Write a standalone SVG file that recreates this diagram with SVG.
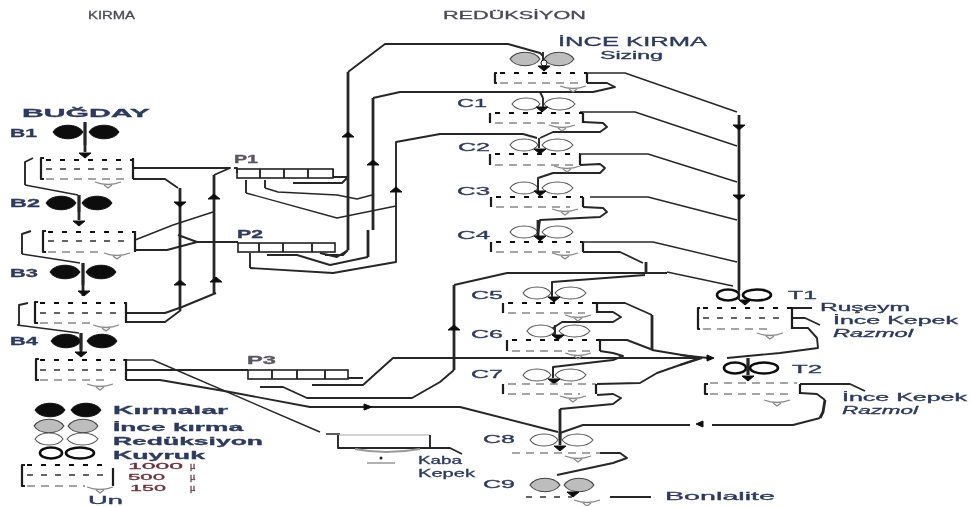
<svg xmlns="http://www.w3.org/2000/svg" width="971" height="507" viewBox="0 0 971 507">
<style>
text{font-family:"Liberation Sans","DejaVu Sans",sans-serif;fill:#2d3a5c;font-size:11px;stroke:#2d3a5c;stroke-width:.3}
.b{font-weight:bold}.i{font-style:italic}.r{fill:#6d3340;stroke:#6d3340;font-size:9px}.g{fill:#4a4a58;stroke:#4a4a58}
.o{fill:#5a5560;stroke:#5a5560}.sm{font-size:10px}.lg{font-size:12px}
path,line,polyline{fill:none;stroke-linejoin:round}
.th{stroke:#262626;stroke-width:1.4}.tk{stroke:#262626;stroke-width:2.8}.md{stroke:#262626;stroke-width:1.9}
.s1{stroke:#111;stroke-width:2.2;stroke-dasharray:5 9}.s2{stroke:#333;stroke-width:1.5;stroke-dasharray:6 8}.s3{stroke:#888;stroke-width:1.3;stroke-dasharray:8 6}
.br{stroke:#1d1d1d;stroke-width:2.2}.hp{stroke:#888;stroke-width:1.3}
.box{fill:#fff;stroke:#222;stroke-width:1.6}
</style>
<defs>
<filter id="soft" x="0" y="0" width="100%" height="100%"><feGaussianBlur stdDeviation="0.45"/></filter>
<g id="blk"><path d="M-33 0C-28-9-8-9-3 0C-8 9-28 9-33 0ZM3 0C8-9 28-9 33 0C28 9 8 9 3 0Z" style="fill:#0a0a0a;stroke:#0a0a0a"/></g>
<g id="gry"><path d="M-32 0C-26-9-8-9-2 0C-8 9-26 9-32 0ZM2 0C8-9 26-9 32 0C26 9 8 9 2 0Z" style="fill:#bdbdbd;stroke:#444;stroke-width:1.1"/></g>
<g id="wht"><path d="M-30 0C-25-8-7-8-2 0C-7 8-25 8-30 0ZM2 0C8-8 27-8 33 0C27 8 8 8 2 0Z" style="fill:#fff;stroke:#555;stroke-width:1.1"/></g>
<g id="rng"><ellipse cx="-15" cy="0" rx="11" ry="5.5" style="fill:#fff;stroke:#111;stroke-width:2.6"/><ellipse cx="14" cy="0" rx="14" ry="5.5" style="fill:#fff;stroke:#111;stroke-width:2.6"/></g>
<g id="hop"><path d="M-13 0Q0 5 13 0M-4 3L0 6L4 3" class="hp"/></g>
<path id="ad" d="M-6-2H6L0 3Z" style="fill:#111;stroke:#111"/>
<path id="au" d="M-6 2H6L0-3Z" style="fill:#111;stroke:#111"/>
</defs>
<g filter="url(#soft)">
<g id="connectors">
<path class="tk" d="M85 122V152M79 195V220M83 270V296M81 333V352"/>
<path class="md" d="M33 158L25 162V185"/><path class="th" d="M25 185L78 195"/>
<path class="md" d="M31 231L22 234V254"/><path class="th" d="M22 254L80 263"/><path class="tk" d="M83 263V270"/>
<path class="md" d="M28 303L19 305V325"/><path class="th" d="M17 325L79 333"/>
<path class="md" d="M133 168H230L214 175"/><path class="tk" d="M214 175V293"/><path class="md" d="M216 293L182 307L165 313H126"/>
<path class="md" d="M133 179H165L178 188"/><path class="tk" d="M180 188V310"/><path class="md" d="M181 310L165 322H126"/>
<path class="md" d="M178 235L197 242H238"/><path class="th" d="M135 240L173 225L213 212"/><path class="md" d="M135 250H167L197 242"/>
<path class="md" d="M333 169V177H347M293 183H342L347 178"/>
<path class="md" d="M246 180V193"/><path class="th" d="M246 193L337 218L396 206"/>
<path class="md" d="M265 180V188"/><path class="th" d="M265 188L278 192L337 195L357 199L372 195"/>
<path class="tk" d="M348 72V250"/><path class="md" d="M348 250L343 255H325M320 253L337 257L348 250"/><path class="md" d="M348 72L385 44H508L540 53L543 56"/>
<path class="tk" d="M373 98V230M368 230V257"/><path class="md" d="M373 98L400 92H593L615 87L607 83H587"/><path class="md" d="M368 257L330 265L297 255H267"/>
<path class="md" d="M250 253V268"/><path class="md" d="M250 268L333 273L396 262V142L440 134H523L537 138"/>
<path class="md" d="M583 122L603 123L607 127L600 132H553L540 138"/><path class="md" d="M540 92L543 98"/>
<path class="th" d="M587 73H625L737 112"/><path class="th" d="M580 112H635L737 146M580 154H648L737 182M590 197H648L737 220M583 242H653L737 262M667 272L733 286"/>
<path class="tk" d="M739 115V290"/>
<path class="md" d="M580 165L600 164L605 168L600 173H553L538 178V188"/><path class="md" d="M583 207L603 208L607 212L600 217L540 220L538 235"/>
<path class="md" d="M583 252H620L643 263"/><path class="tk" d="M646 262V274"/>
<path class="md" d="M454 285L507 273H667M645 275L552 282V297"/><path class="tk" d="M454 285V370"/>
<path class="md" d="M454 370L440 382L412 398H307L283 387H260"/>
<path class="md" d="M126 370H248M348 378H363M312 385H363L393 358H700"/>
<path class="th" d="M123 360H153L320 432M326 434H340"/>
<path class="md" d="M126 380H160L230 392L310 407H460L558 432"/>
<path class="md" d="M597 303H625L652 315"/><path class="tk" d="M652 315V350"/><path class="md" d="M652 350L700 358M600 340H627L653 350"/>
<path class="md" d="M597 312H613L621 317L613 322H562L553 328V335"/>
<path class="md" d="M600 351L613 353L623 356L613 360L553 367V378"/>
<path class="md" d="M597 384L640 383L657 373L700 358"/>
<path class="md" d="M597 395L613 394L621 398L613 404L560 409"/><path class="tk" d="M560 409V440"/>
<path class="md" d="M560 433L583 425H690M712 425H793L820 418"/><path class="tk" d="M825 400L823 412L820 418"/><path class="md" d="M825 400L817 394L800 393"/>
<path class="md" d="M600 453H620L627 458L613 463L557 475"/>
<path class="md" d="M610 497H651"/>
<path class="md" d="M792 308H812M792 318H805L820 325M792 328H808L817 338L818 348L780 353L727 358"/>
<path class="md" d="M680 355L708 358M680 365L702 358"/>
<path class="md" d="M800 384H850L865 391"/>
<path class="tk" d="M748 358V375"/>
<path class="md" d="M430 448H450L462 454"/>
<use href="#ad" x="85" y="155"/><use href="#ad" x="79" y="223"/><use href="#ad" x="84" y="293"/><use href="#ad" x="81" y="354"/>
<use href="#ad" x="180" y="204"/><use href="#au" x="180" y="283"/><use href="#au" x="214" y="197"/><use href="#au" x="216" y="280"/>
<use href="#au" x="348" y="135"/><use href="#au" x="373" y="163"/><use href="#au" x="396" y="190"/><use href="#au" x="454" y="328"/>
<use href="#ad" x="739" y="127"/><use href="#ad" x="739" y="197"/>
<path d="M707 355L714 358L707 361Z" style="fill:#111;stroke:#111"/><path d="M696 424L703 421V427Z" style="fill:#111;stroke:#111"/><path d="M364 404L372 407L364 410Z" style="fill:#111;stroke:#111"/>
</g>

<g id="B1"><use href="#blk" x="86" y="132"/><path class="tk" d="M85 122V145"/><path class="s1" d="M46 160H133"/><path class="s2" d="M46 169H130"/><path class="s3" d="M46 179H125"/><path class="br" d="M44 158H41V179H44M133 158V179"/><use href="#hop" x="108" y="182"/></g>
<g id="B2"><use href="#blk" x="79" y="203"/><path class="tk" d="M79 195V212"/><path class="s1" d="M48 232H135"/><path class="s2" d="M48 241H132"/><path class="s3" d="M48 252H100"/><path class="br" d="M46 231H43V252H46M135 231V252"/><use href="#hop" x="117" y="253"/></g>
<g id="B3"><use href="#blk" x="83" y="272"/><path class="tk" d="M83 263V285"/><path class="s1" d="M40 303H126"/><path class="s2" d="M40 313H124"/><path class="s3" d="M40 323H90"/><path class="br" d="M38 302H35V323H38M126 302V323"/><use href="#hop" x="106" y="325"/></g>
<g id="B4"><use href="#blk" x="84" y="341"/><path class="tk" d="M81 333V350"/><path class="s1" d="M40 360H126"/><path class="s2" d="M40 370H124"/><path class="s3" d="M40 380H110"/><path class="br" d="M39 359H36V380H39M126 359V380"/><use href="#hop" x="100" y="384"/></g>
<g id="P1"><rect class="box" x="237" y="169" width="96" height="9"/><path class="md" d="M260 169V178M284 169V178M308 169V178M234 168H237V173"/><text class="b o" x="234" y="163" textLength="24" lengthAdjust="spacingAndGlyphs">P1</text></g>
<g id="P2"><rect class="box" x="238" y="243" width="97" height="9"/><path class="md" d="M259 243V252M283 243V252M312 243V252"/><text class="b" x="237" y="238" textLength="26" lengthAdjust="spacingAndGlyphs">P2</text></g>
<g id="P3"><rect class="box" x="248" y="370" width="100" height="9"/><path class="md" d="M272 370V379M297 370V379M325 370V379"/><text class="b o" x="247" y="364" textLength="29" lengthAdjust="spacingAndGlyphs">P3</text></g>

<g id="Sizing"><use href="#gry" x="542" y="59"/><path class="md" d="M543 52V62"/><circle cx="544" cy="63" r="3" style="fill:#fff;stroke:#111"/><use href="#ad" x="544" y="68"/><path class="s1" d="M500 73H587"/><path class="s3" d="M500 83H580"/><path class="br" d="M497 73H495V83H497M587 73V83"/><use href="#hop" x="573" y="86"/></g>
<g id="C1"><use href="#wht" x="542" y="104"/><path class="md" d="M543 98V107"/><use href="#ad" x="542" y="109"/><path class="s1" d="M495 113H583"/><path class="s3" d="M495 123H570"/><path class="br" d="M490 113V123M583 113V123"/><use href="#hop" x="562" y="125"/></g>
<g id="C2"><use href="#wht" x="540" y="145"/><path class="md" d="M539 138V148"/><use href="#ad" x="540" y="151"/><path class="s1" d="M495 154H580"/><path class="s3" d="M495 165H575"/><path class="br" d="M490 154V165M580 154V165"/><use href="#hop" x="567" y="166"/></g>
<g id="C3"><use href="#wht" x="540" y="188"/><path class="md" d="M538 180V191"/><use href="#ad" x="540" y="193"/><path class="s1" d="M496 197H583"/><path class="s3" d="M496 207H570"/><path class="br" d="M491 197V207M583 197V207"/><use href="#hop" x="565" y="209"/></g>
<g id="C4"><use href="#wht" x="540" y="232"/><path class="tk" d="M538 220V236"/><use href="#ad" x="540" y="238"/><path class="s1" d="M496 242H583"/><path class="s3" d="M496 252H570"/><path class="br" d="M491 242V252M583 242V252"/><use href="#hop" x="565" y="253"/></g>
<g id="C5"><use href="#wht" x="553" y="293"/><path class="md" d="M552 282V296"/><use href="#ad" x="554" y="299"/><path class="s1" d="M508 303H597"/><path class="s3" d="M508 313H585"/><path class="br" d="M503 303V313M597 303V313"/><use href="#hop" x="578" y="315"/></g>
<g id="C6"><use href="#wht" x="557" y="331"/><path class="md" d="M555 325V335"/><use href="#ad" x="558" y="337"/><path class="s1" d="M512 340H600"/><path class="s3" d="M512 351H590"/><path class="br" d="M507 340V351M600 340V351"/><use href="#hop" x="578" y="353"/></g>
<g id="C7"><use href="#wht" x="553" y="375"/><path class="md" d="M553 367V378"/><use href="#ad" x="554" y="381"/><path class="s3" d="M508 384H596M508 394H580"/><path class="br" d="M503 384V394M596 384V394"/><use href="#hop" x="573" y="396"/></g>
<g id="C8"><use href="#wht" x="560" y="440"/><path class="tk" d="M560 432V445"/><use href="#ad" x="560" y="448"/><path class="s3" d="M512 453H600"/><use href="#hop" x="578" y="456"/></g>
<g id="C9"><use href="#gry" x="562" y="485"/><use href="#ad" x="573" y="494"/><path class="s2" d="M526 497H572"/><use href="#hop" x="587" y="500"/></g>

<g id="T1"><use href="#rng" x="743" y="295"/><path class="md" d="M739 288V300"/><use href="#ad" x="745" y="302"/><path class="s1" d="M703 308H792"/><path class="s2" d="M703 318H780"/><path class="s3" d="M703 329H770"/><path class="br" d="M700 308H698V329H700M792 308V329"/><use href="#hop" x="770" y="333"/></g>
<g id="T2"><use href="#rng" x="750" y="368"/><path class="tk" d="M748 358V375"/><use href="#ad" x="748" y="378"/><path class="s3" d="M710 383H797M710 394H790"/><path class="br" d="M708 384H705V394H708M800 384V394"/><use href="#hop" x="777" y="400"/></g>

<g id="kepek-filter"><path style="stroke:#aaa;stroke-width:1.2" d="M338 435H430"/><path class="md" d="M338 435V448H430V435"/><path style="stroke:#999;stroke-width:2" d="M355 449Q385 455 420 449"/><path class="hp" d="M367 463H395"/><circle cx="381" cy="458" r="1.5" style="fill:#222"/></g>

<g id="legend"><use href="#blk" x="68" y="410"/><use href="#gry" x="66" y="426"/><use href="#wht" x="65" y="439"/><use href="#rng" x="66" y="453"/>
<path class="s1" d="M27 465H108"/><path class="s2" d="M27 475H108"/><path class="s3" d="M27 486H85"/><path class="br" d="M25 465H22V486H25M113 468V486"/><use href="#hop" x="100" y="487"/></g>

<g id="labels">
<text class="g" x="88" y="19" textLength="47" lengthAdjust="spacingAndGlyphs">KIRMA</text>
<text class="g" x="443" y="19" textLength="143" lengthAdjust="spacingAndGlyphs">REDÜKSİYON</text>
<text class="b" x="22" y="117" textLength="128" lengthAdjust="spacingAndGlyphs">BUĞDAY</text>
<text class="b" x="10" y="137" textLength="27" lengthAdjust="spacingAndGlyphs">B1</text>
<text class="b" x="10" y="207" textLength="30" lengthAdjust="spacingAndGlyphs">B2</text>
<text class="b" x="10" y="277" textLength="28" lengthAdjust="spacingAndGlyphs">B3</text>
<text class="b" x="10" y="345" textLength="28" lengthAdjust="spacingAndGlyphs">B4</text>
<text class="b" x="113" y="414" textLength="115" lengthAdjust="spacingAndGlyphs">Kırmalar</text>
<text class="b" x="113" y="431" textLength="130" lengthAdjust="spacingAndGlyphs">İnce kırma</text>
<text class="b" x="113" y="445" textLength="150" lengthAdjust="spacingAndGlyphs">Redüksiyon</text>
<text class="b" x="113" y="459" textLength="92" lengthAdjust="spacingAndGlyphs">Kuyruk</text>
<text class="r" x="128" y="469" textLength="55" lengthAdjust="spacingAndGlyphs">1000</text><text class="r" x="190" y="469">µ</text>
<text class="r" x="128" y="480" textLength="37" lengthAdjust="spacingAndGlyphs">500</text><text class="r" x="190" y="480">µ</text>
<text class="r" x="130" y="491" textLength="36" lengthAdjust="spacingAndGlyphs">150</text><text class="r" x="190" y="491">µ</text>
<text x="88" y="504" textLength="35" lengthAdjust="spacingAndGlyphs">Un</text>
<text x="418" y="464" textLength="44" lengthAdjust="spacingAndGlyphs">Kaba</text>
<text x="418" y="477" textLength="57" lengthAdjust="spacingAndGlyphs">Kepek</text>
<text class="lg" x="558" y="46" textLength="149" lengthAdjust="spacingAndGlyphs">İNCE KIRMA</text>
<text class="sm" x="600" y="59" textLength="63" lengthAdjust="spacingAndGlyphs">Sizing</text>
<text x="457" y="107" textLength="30" lengthAdjust="spacingAndGlyphs">C1</text>
<text x="458" y="151" textLength="32" lengthAdjust="spacingAndGlyphs">C2</text>
<text x="457" y="195" textLength="33" lengthAdjust="spacingAndGlyphs">C3</text>
<text x="457" y="239" textLength="33" lengthAdjust="spacingAndGlyphs">C4</text>
<text x="471" y="299" textLength="32" lengthAdjust="spacingAndGlyphs">C5</text>
<text x="471" y="338" textLength="32" lengthAdjust="spacingAndGlyphs">C6</text>
<text x="471" y="378" textLength="32" lengthAdjust="spacingAndGlyphs">C7</text>
<text x="483" y="443" textLength="32" lengthAdjust="spacingAndGlyphs">C8</text>
<text x="483" y="488" textLength="32" lengthAdjust="spacingAndGlyphs">C9</text>
<text x="665" y="500" textLength="110" lengthAdjust="spacingAndGlyphs">Bonlalite</text>
<text x="788" y="299" textLength="29" lengthAdjust="spacingAndGlyphs">T1</text>
<text x="792" y="373" textLength="30" lengthAdjust="spacingAndGlyphs">T2</text>
<text class="sm" x="820" y="311" textLength="90" lengthAdjust="spacingAndGlyphs">Ruşeym</text>
<text class="sm" x="833" y="324" textLength="125" lengthAdjust="spacingAndGlyphs">İnce Kepek</text>
<text class="i sm" x="833" y="337" textLength="80" lengthAdjust="spacingAndGlyphs">Razmol</text>
<text class="sm" x="842" y="401" textLength="125" lengthAdjust="spacingAndGlyphs">İnce Kepek</text>
<text class="i sm" x="842" y="414" textLength="76" lengthAdjust="spacingAndGlyphs">Razmol</text>
</g>
</g>
</svg>
